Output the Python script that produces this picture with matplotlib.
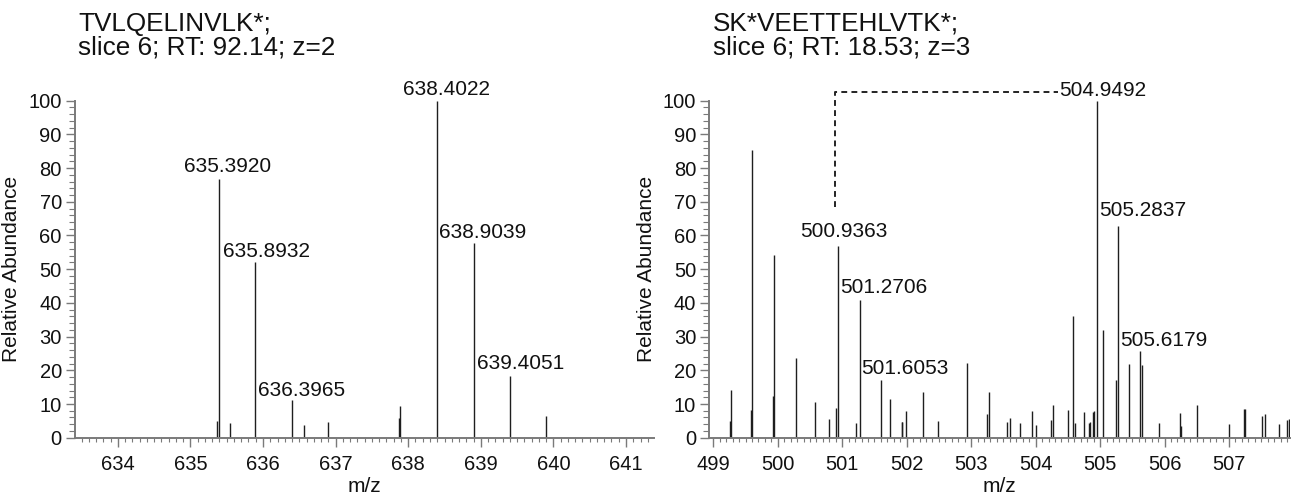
import matplotlib
matplotlib.use("Agg")
import matplotlib.pyplot as plt
from matplotlib.ticker import MultipleLocator
from matplotlib.transforms import offset_copy

plt.rcParams['font.family'] = ['Liberation Sans', 'DejaVu Sans']

# ---------------- data ----------------
left_title = ["TVLQELINVLK*;", "slice 6; RT: 92.14; z=2"]
right_title = ["SK*VEETTEHLVTK*;", "slice 6; RT: 18.53; z=3"]

left_mz = [635.372, 635.392, 635.547, 635.8932, 636.3965, 636.566, 636.89,
           637.870, 637.893, 638.4022, 638.9039, 639.4051, 639.900]
left_int = [5.0, 76.8, 4.5, 52.2, 11.2, 3.8, 4.6,
            5.7, 9.5, 100.0, 57.7, 18.3, 6.5]
left_labels = ["635.3920", "635.8932", "636.3965", "638.4022", "638.9039", "639.4051"]
left_label_mz = [635.392, 635.8932, 636.3965, 638.4022, 638.9039, 639.4051]
left_label_int = [76.8, 52.2, 11.2, 100.0, 57.7, 18.3]

right_mz = [499.262, 499.270, 499.590, 499.596, 499.930, 499.937, 500.278,
            500.573, 500.790, 500.903, 500.9363, 501.218, 501.2706, 501.6053,
            501.746, 501.920, 501.930, 501.994, 502.248, 502.486, 502.940,
            503.246, 503.272, 503.561, 503.603, 503.753, 503.944, 504.011,
            504.239, 504.270, 504.503, 504.585, 504.606, 504.751, 504.830,
            504.845, 504.895, 504.910, 504.9492, 505.050, 505.247, 505.2837,
            505.454, 505.6179, 505.650, 505.910, 506.240, 506.260, 506.504,
            506.995, 507.238, 507.250, 507.507, 507.563, 507.780, 507.905,
            507.930]
right_int = [5.0, 14.2, 8.2, 85.3, 12.5, 54.1, 23.6,
             10.5, 5.6, 8.8, 57.0, 4.5, 41.0, 17.0,
             11.5, 4.8, 4.6, 8.0, 13.5, 5.0, 22.1,
             7.0, 13.5, 4.8, 5.8, 4.5, 8.0, 3.8,
             5.3, 9.6, 8.2, 36.0, 4.3, 7.7, 4.5,
             4.8, 7.5, 7.8, 100.0, 32.0, 17.2, 62.8,
             21.9, 25.6, 21.6, 4.3, 7.3, 3.5, 9.6,
             4.0, 8.4, 8.4, 6.3, 7.0, 4.1, 5.3,
             5.5]
right_labels = ["500.9363", "501.2706", "501.6053", "504.9492", "505.2837", "505.6179"]
right_label_mz = [500.9363, 501.2706, 501.6053, 504.9492, 505.2837, 505.6179]
right_label_int = [57.0, 41.0, 17.0, 100.0, 62.8, 25.6]

# dashed connector (m/z, abundance)
link_mz = [500.888, 500.888, 504.352]
link_int = [68.4, 102.5, 102.5]

# label layout offsets in pixels (dx, dy)
left_dx = [9, 11, 10, 9, 9, 10]
left_dy = [7, 4.5, 3.5, 5.5, 5, 7.5]
right_dx = [6, 24, 24, 6, 24, 24]
right_dy = [9, 6.5, 6, 5, 10, 5]

# ---------------- figure ----------------
W, H = 1294, 501
fig = plt.figure(figsize=(W / 100, H / 100), dpi=100)

axL = fig.add_axes([75 / W, (H - 437.7) / H, 579.3 / W, 337 / H])
axR = fig.add_axes([709.3 / W, (H - 437.7) / H, 580.7 / W, 337 / H])

spine_c = '#7a7a7a'
peak_c = '#1e1e1e'


def style(ax, xlim, xmaj):
    ax.set_xlim(*xlim)
    ax.set_ylim(0, 100)
    for s in ['top', 'right']:
        ax.spines[s].set_visible(False)
    for s in ['left', 'bottom']:
        ax.spines[s].set_color(spine_c)
        ax.spines[s].set_linewidth(1.4)
    ax.xaxis.set_major_locator(MultipleLocator(xmaj))
    ax.xaxis.set_minor_locator(MultipleLocator(0.1))
    ax.yaxis.set_major_locator(MultipleLocator(10))
    ax.yaxis.set_minor_locator(MultipleLocator(2))
    ax.tick_params(axis='both', which='major', direction='out', color=spine_c,
                   width=1.0, labelsize=14.5, labelcolor='#111111')
    ax.tick_params(axis='x', which='major', length=6.5, pad=6)
    ax.tick_params(axis='x', which='minor', length=3, width=0.8, color=spine_c)
    ax.tick_params(axis='y', which='major', length=6.5, pad=3)
    ax.tick_params(axis='y', which='minor', length=4.5, width=0.8, color=spine_c)
    ax.set_xlabel('m/z', fontsize=15, labelpad=2, color='#111111')
    ax.set_ylabel('Relative Abundance', fontsize=15, labelpad=5, color='#111111')


style(axL, (633.41, 641.39), 1)
style(axR, (498.938, 507.946), 1)

axL.vlines(left_mz, 0, left_int, color=peak_c, lw=1.0)
axR.vlines(right_mz, 0, right_int, color=peak_c, lw=1.0)


def annotate(ax, labels, mzs, ints, dxs, dys):
    for lab, m, v, dx, dy in zip(labels, mzs, ints, dxs, dys):
        tr = offset_copy(ax.transData, fig=fig, x=dx, y=dy, units='dots')
        ax.text(m, v, lab, transform=tr, ha='center', va='baseline',
                fontsize=15, color='#111111', clip_on=False)


annotate(axL, left_labels, left_label_mz, left_label_int, left_dx, left_dy)
annotate(axR, right_labels, right_label_mz, right_label_int, right_dx, right_dy)

axR.plot(link_mz, link_int, color='#222222', lw=1.4, linestyle=(0, (3.0, 2.2)),
         clip_on=False)

# titles
for x0, lines in [(78.3, left_title), (712.7, right_title)]:
    fig.text(x0 / W, 1 - 30.7 / H, lines[0], fontsize=18.8, va='baseline',
             ha='left', color='#111111')
    fig.text(x0 / W, 1 - 54.0 / H, lines[1], fontsize=18.8, va='baseline',
             ha='left', color='#111111')

fig.savefig('out.png', dpi=100)
